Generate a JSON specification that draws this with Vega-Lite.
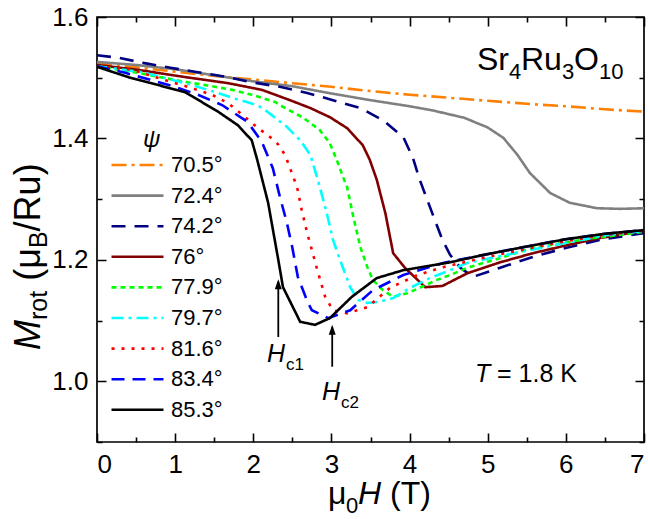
{
  "$schema": "https://vega.github.io/schema/vega-lite/v6.json",
  "width": 547,
  "height": 425,
  "autosize": {"type": "none"},
  "padding": {"left": 97, "top": 17, "right": 4, "bottom": 77},
  "background": "white",
  "config": {
    "view": {"stroke": "black", "strokeWidth": 1.7},
    "font": "Liberation Sans",
    "text": {"font": "Liberation Sans", "color": "black"},
    "axis": {
      "domain": false, "tickColor": "black", "tickWidth": 1.6,
      "labelColor": "black", "labelFont": "Liberation Sans", "labelFontSize": 26,
      "grid": false, "title": null
    }
  },
  "resolve": {"axis": {"x": "independent", "y": "independent"}},
  "layer": [
    {
      "data": {"values": [
        {"psi":"70.5°","H":0,"M":1.524},{"psi":"70.5°","H":0.5,"M":1.517},{"psi":"70.5°","H":1,"M":1.510},{"psi":"70.5°","H":1.5,"M":1.503},{"psi":"70.5°","H":2,"M":1.497},{"psi":"70.5°","H":2.5,"M":1.491},{"psi":"70.5°","H":3,"M":1.485},{"psi":"70.5°","H":3.5,"M":1.478},{"psi":"70.5°","H":4,"M":1.472},{"psi":"70.5°","H":4.5,"M":1.467},{"psi":"70.5°","H":5,"M":1.462},{"psi":"70.5°","H":5.5,"M":1.457},{"psi":"70.5°","H":6,"M":1.453},{"psi":"70.5°","H":6.5,"M":1.448},{"psi":"70.5°","H":7,"M":1.444},
        {"psi":"72.4°","H":0,"M":1.526},{"psi":"72.4°","H":0.5,"M":1.521},{"psi":"72.4°","H":1,"M":1.514},{"psi":"72.4°","H":1.5,"M":1.504},{"psi":"72.4°","H":2,"M":1.494},{"psi":"72.4°","H":2.5,"M":1.486},{"psi":"72.4°","H":3,"M":1.474},{"psi":"72.4°","H":3.5,"M":1.463},{"psi":"72.4°","H":4,"M":1.453},{"psi":"72.4°","H":4.3,"M":1.446},{"psi":"72.4°","H":4.7,"M":1.434},{"psi":"72.4°","H":5.0,"M":1.418},{"psi":"72.4°","H":5.2,"M":1.401},{"psi":"72.4°","H":5.38,"M":1.373},{"psi":"72.4°","H":5.54,"M":1.343},{"psi":"72.4°","H":5.8,"M":1.310},{"psi":"72.4°","H":6.05,"M":1.294},{"psi":"72.4°","H":6.4,"M":1.285},{"psi":"72.4°","H":6.7,"M":1.284},{"psi":"72.4°","H":7,"M":1.285},
        {"psi":"74.2°","H":0,"M":1.537},{"psi":"74.2°","H":0.27,"M":1.533},{"psi":"74.2°","H":0.61,"M":1.524},{"psi":"74.2°","H":0.96,"M":1.516},{"psi":"74.2°","H":1.29,"M":1.509},{"psi":"74.2°","H":1.68,"M":1.501},{"psi":"74.2°","H":1.96,"M":1.493},{"psi":"74.2°","H":2.34,"M":1.485},{"psi":"74.2°","H":2.69,"M":1.475},{"psi":"74.2°","H":3.02,"M":1.463},{"psi":"74.2°","H":3.37,"M":1.450},{"psi":"74.2°","H":3.66,"M":1.430},{"psi":"74.2°","H":3.92,"M":1.402},{"psi":"74.2°","H":4.04,"M":1.369},{"psi":"74.2°","H":4.13,"M":1.332},{"psi":"74.2°","H":4.29,"M":1.277},{"psi":"74.2°","H":4.42,"M":1.233},{"psi":"74.2°","H":4.52,"M":1.208},{"psi":"74.2°","H":4.65,"M":1.187},{"psi":"74.2°","H":4.81,"M":1.172},{"psi":"74.2°","H":5.16,"M":1.187},{"psi":"74.2°","H":5.58,"M":1.205},{"psi":"74.2°","H":6.01,"M":1.220},{"psi":"74.2°","H":6.44,"M":1.233},{"psi":"74.2°","H":7,"M":1.244},
        {"psi":"76°","H":0,"M":1.521},{"psi":"76°","H":0.52,"M":1.513},{"psi":"76°","H":1.13,"M":1.501},{"psi":"76°","H":1.68,"M":1.491},{"psi":"76°","H":2.11,"M":1.480},{"psi":"76°","H":2.47,"M":1.463},{"psi":"76°","H":2.73,"M":1.450},{"psi":"76°","H":2.98,"M":1.435},{"psi":"76°","H":3.2,"M":1.417},{"psi":"76°","H":3.4,"M":1.389},{"psi":"76°","H":3.49,"M":1.365},{"psi":"76°","H":3.58,"M":1.332},{"psi":"76°","H":3.69,"M":1.277},{"psi":"76°","H":3.79,"M":1.211},{"psi":"76°","H":3.94,"M":1.187},{"psi":"76°","H":4.2,"M":1.155},{"psi":"76°","H":4.42,"M":1.157},{"psi":"76°","H":4.74,"M":1.178},{"psi":"76°","H":5.16,"M":1.196},{"psi":"76°","H":5.58,"M":1.211},{"psi":"76°","H":6.01,"M":1.224},{"psi":"76°","H":6.44,"M":1.236},{"psi":"76°","H":7,"M":1.248},
        {"psi":"77.9°","H":0,"M":1.519},{"psi":"77.9°","H":0.52,"M":1.508},{"psi":"77.9°","H":1.13,"M":1.493},{"psi":"77.9°","H":1.38,"M":1.488},{"psi":"77.9°","H":1.73,"M":1.480},{"psi":"77.9°","H":1.98,"M":1.472},{"psi":"77.9°","H":2.28,"M":1.460},{"psi":"77.9°","H":2.38,"M":1.452},{"psi":"77.9°","H":2.64,"M":1.434},{"psi":"77.9°","H":2.85,"M":1.414},{"psi":"77.9°","H":2.98,"M":1.392},{"psi":"77.9°","H":3.07,"M":1.364},{"psi":"77.9°","H":3.15,"M":1.336},{"psi":"77.9°","H":3.2,"M":1.320},{"psi":"77.9°","H":3.28,"M":1.271},{"psi":"77.9°","H":3.37,"M":1.221},{"psi":"77.9°","H":3.46,"M":1.188},{"psi":"77.9°","H":3.53,"M":1.167},{"psi":"77.9°","H":3.66,"M":1.150},{"psi":"77.9°","H":3.79,"M":1.139},{"psi":"77.9°","H":3.97,"M":1.145},{"psi":"77.9°","H":4.13,"M":1.154},{"psi":"77.9°","H":4.35,"M":1.167},{"psi":"77.9°","H":4.52,"M":1.175},{"psi":"77.9°","H":4.74,"M":1.187},{"psi":"77.9°","H":5.16,"M":1.203},{"psi":"77.9°","H":5.58,"M":1.220},{"psi":"77.9°","H":6.3,"M":1.235},{"psi":"77.9°","H":7,"M":1.246},
        {"psi":"79.7°","H":0,"M":1.519},{"psi":"79.7°","H":0.58,"M":1.509},{"psi":"79.7°","H":1.13,"M":1.491},{"psi":"79.7°","H":1.42,"M":1.480},{"psi":"79.7°","H":1.73,"M":1.467},{"psi":"79.7°","H":2.05,"M":1.455},{"psi":"79.7°","H":2.18,"M":1.444},{"psi":"79.7°","H":2.43,"M":1.419},{"psi":"79.7°","H":2.6,"M":1.397},{"psi":"79.7°","H":2.73,"M":1.373},{"psi":"79.7°","H":2.83,"M":1.330},{"psi":"79.7°","H":2.94,"M":1.277},{"psi":"79.7°","H":3.02,"M":1.233},{"psi":"79.7°","H":3.11,"M":1.200},{"psi":"79.7°","H":3.24,"M":1.155},{"psi":"79.7°","H":3.34,"M":1.134},{"psi":"79.7°","H":3.46,"M":1.129},{"psi":"79.7°","H":3.62,"M":1.131},{"psi":"79.7°","H":3.79,"M":1.137},{"psi":"79.7°","H":4.01,"M":1.154},{"psi":"79.7°","H":4.26,"M":1.170},{"psi":"79.7°","H":4.52,"M":1.183},{"psi":"79.7°","H":4.74,"M":1.195},{"psi":"79.7°","H":5.5,"M":1.215},{"psi":"79.7°","H":6,"M":1.228},{"psi":"79.7°","H":6.5,"M":1.240},{"psi":"79.7°","H":7,"M":1.248},
        {"psi":"81.6°","H":0,"M":1.519},{"psi":"81.6°","H":0.45,"M":1.513},{"psi":"81.6°","H":0.87,"M":1.496},{"psi":"81.6°","H":1.16,"M":1.485},{"psi":"81.6°","H":1.47,"M":1.472},{"psi":"81.6°","H":1.68,"M":1.458},{"psi":"81.6°","H":1.86,"M":1.439},{"psi":"81.6°","H":2.06,"M":1.417},{"psi":"81.6°","H":2.19,"M":1.405},{"psi":"81.6°","H":2.32,"M":1.390},{"psi":"81.6°","H":2.41,"M":1.372},{"psi":"81.6°","H":2.47,"M":1.351},{"psi":"81.6°","H":2.56,"M":1.320},{"psi":"81.6°","H":2.62,"M":1.282},{"psi":"81.6°","H":2.69,"M":1.244},{"psi":"81.6°","H":2.75,"M":1.216},{"psi":"81.6°","H":2.82,"M":1.183},{"psi":"81.6°","H":2.92,"M":1.139},{"psi":"81.6°","H":3.02,"M":1.117},{"psi":"81.6°","H":3.2,"M":1.112},{"psi":"81.6°","H":3.46,"M":1.122},{"psi":"81.6°","H":3.75,"M":1.154},{"psi":"81.6°","H":4.1,"M":1.175},{"psi":"81.6°","H":4.43,"M":1.188},{"psi":"81.6°","H":5,"M":1.205},{"psi":"81.6°","H":5.5,"M":1.218},{"psi":"81.6°","H":6,"M":1.231},{"psi":"81.6°","H":6.5,"M":1.241},{"psi":"81.6°","H":7,"M":1.248},
        {"psi":"83.4°","H":0,"M":1.519},{"psi":"83.4°","H":0.36,"M":1.508},{"psi":"83.4°","H":1,"M":1.485},{"psi":"83.4°","H":1.29,"M":1.472},{"psi":"83.4°","H":1.6,"M":1.455},{"psi":"83.4°","H":1.93,"M":1.427},{"psi":"83.4°","H":2.11,"M":1.394},{"psi":"83.4°","H":2.25,"M":1.351},{"psi":"83.4°","H":2.34,"M":1.304},{"psi":"83.4°","H":2.43,"M":1.261},{"psi":"83.4°","H":2.5,"M":1.220},{"psi":"83.4°","H":2.57,"M":1.172},{"psi":"83.4°","H":2.7,"M":1.129},{"psi":"83.4°","H":2.75,"M":1.117},{"psi":"83.4°","H":2.96,"M":1.104},{"psi":"83.4°","H":3.24,"M":1.117},{"psi":"83.4°","H":3.53,"M":1.150},{"psi":"83.4°","H":3.92,"M":1.175},{"psi":"83.4°","H":4.43,"M":1.195},{"psi":"83.4°","H":4.9,"M":1.207},{"psi":"83.4°","H":5.5,"M":1.222},{"psi":"83.4°","H":6,"M":1.234},{"psi":"83.4°","H":6.5,"M":1.243},{"psi":"83.4°","H":7,"M":1.249},
        {"psi":"85.3°","H":0,"M":1.518},{"psi":"85.3°","H":0.4,"M":1.501},{"psi":"85.3°","H":1.13,"M":1.476},{"psi":"85.3°","H":1.55,"M":1.444},{"psi":"85.3°","H":1.8,"M":1.422},{"psi":"85.3°","H":1.98,"M":1.397},{"psi":"85.3°","H":2.05,"M":1.365},{"psi":"85.3°","H":2.19,"M":1.294},{"psi":"85.3°","H":2.32,"M":1.200},{"psi":"85.3°","H":2.38,"M":1.155},{"psi":"85.3°","H":2.6,"M":1.098},{"psi":"85.3°","H":2.79,"M":1.093},{"psi":"85.3°","H":2.98,"M":1.104},{"psi":"85.3°","H":3.26,"M":1.139},{"psi":"85.3°","H":3.58,"M":1.170},{"psi":"85.3°","H":3.92,"M":1.183},{"psi":"85.3°","H":4.52,"M":1.196},{"psi":"85.3°","H":4.94,"M":1.208},{"psi":"85.3°","H":5.5,"M":1.222},{"psi":"85.3°","H":6,"M":1.234},{"psi":"85.3°","H":6.5,"M":1.243},{"psi":"85.3°","H":7,"M":1.249}
      ]},
      "mark": {"type": "line", "strokeWidth": 2.6, "clip": true},
      "encoding": {
        "x": {"field": "H", "type": "quantitative", "scale": {"domain": [0, 7], "nice": false, "zero": false},
          "axis": {"orient": "bottom", "values": [0,0.5,1,1.5,2,2.5,3,3.5,4,4.5,5,5.5,6,6.5,7],
            "labelExpr": "datum.value % 1 === 0 ? format(datum.value, 'd') : ''",
            "tickSize": 9, "offset": -9, "labelPadding": 9,
            "tickDash": {"condition": {"test": "datum.value % 1 !== 0", "value": [0, 4, 5, 0]}, "value": [1, 0]}}},
        "y": {"field": "M", "type": "quantitative", "scale": {"domain": [0.9, 1.6], "nice": false, "zero": false},
          "axis": {"orient": "left", "values": [0.9,1,1.1,1.2,1.3,1.4,1.5,1.6],
            "labelExpr": "(datum.value == 1 || datum.value == 1.2 || datum.value == 1.4 || datum.value == 1.6) ? format(datum.value, '.1f') : ''",
            "tickSize": 9, "offset": -9, "labelPadding": 9,
            "tickDash": {"condition": {"test": "!(datum.value == 1 || datum.value == 1.2 || datum.value == 1.4 || datum.value == 1.6)", "value": [0, 4, 5, 0]}, "value": [1, 0]}}},
        "color": {"field": "psi", "type": "nominal",
          "sort": ["70.5°","72.4°","74.2°","76°","77.9°","79.7°","81.6°","83.4°","85.3°"],
          "scale": {"domain": ["70.5°","72.4°","74.2°","76°","77.9°","79.7°","81.6°","83.4°","85.3°"],
            "range": ["#FF8000","#808080","#000080","#800000","#00FF00","#00FFFF","#FF0000","#0000FF","#000000"]},
          "legend": {"orient": "none", "legendX": 13, "legendY": 137, "title": null, "labelFontSize": 22,
            "labelFont": "Liberation Sans", "labelColor": "black", "symbolType": "stroke", "symbolSize": 2700,
            "symbolStrokeWidth": 2.6, "clipHeight": 22, "rowPadding": 8.6, "labelOffset": 6}},
        "strokeDash": {"field": "psi", "type": "nominal",
          "sort": ["70.5°","72.4°","74.2°","76°","77.9°","79.7°","81.6°","83.4°","85.3°"],
          "scale": {"domain": ["70.5°","72.4°","74.2°","76°","77.9°","79.7°","81.6°","83.4°","85.3°"],
            "range": [[15,5,3,5],[1,0],[14,9],[1,0],[5,4],[12,5,3,5],[3,7],[13,8],[1,0]]},
          "legend": {"orient": "none", "legendX": 13, "legendY": 137, "title": null, "labelFontSize": 22,
            "labelFont": "Liberation Sans", "labelColor": "black", "symbolType": "stroke", "symbolSize": 2700,
            "symbolStrokeWidth": 2.6, "clipHeight": 22, "rowPadding": 8.6, "labelOffset": 6}}
      }
    },
    {
      "data": {"values": [{"a": "Hc1", "x": 2.32, "y1": 1.164, "y2": 1.073}, {"a": "Hc2", "x": 3.01, "y1": 1.089, "y2": 1.024}]},
      "mark": {"type": "rule", "strokeWidth": 1.8, "color": "black"},
      "encoding": {
        "x": {"field": "x", "type": "quantitative",
          "axis": {"orient": "top", "values": [0,0.5,1,1.5,2,2.5,3,3.5,4,4.5,5,5.5,6,6.5,7], "labels": false,
            "tickSize": 9, "offset": -9,
            "tickDash": {"condition": {"test": "datum.value % 1 !== 0", "value": [0, 4, 5, 0]}, "value": [1, 0]}}},
        "y": {"field": "y1", "type": "quantitative",
          "axis": {"orient": "right", "values": [0.9,1,1.1,1.2,1.3,1.4,1.5,1.6], "labels": false,
            "tickSize": 9, "offset": -9,
            "tickDash": {"condition": {"test": "!(datum.value == 1 || datum.value == 1.2 || datum.value == 1.4 || datum.value == 1.6)", "value": [0, 4, 5, 0]}, "value": [1, 0]}}},
        "y2": {"field": "y2"}
      }
    },
    {
      "data": {"values": [{"a": "Hc1", "x": 2.32, "y": 1.168}, {"a": "Hc2", "x": 3.01, "y": 1.093}]},
      "mark": {"type": "point", "shape": "M0,0L-0.35,1L0.35,1Z", "filled": true, "color": "black", "opacity": 1, "size": 400},
      "encoding": {
        "x": {"field": "x", "type": "quantitative", "axis": null},
        "y": {"field": "y", "type": "quantitative", "axis": null}
      }
    },
    {"data": {"values": [{}]}, "mark": {"type": "text", "text": "ψ", "fontSize": 24, "fontStyle": "italic", "align": "center", "baseline": "middle"},
      "encoding": {"x": {"datum": 0.70, "type": "quantitative", "axis": null}, "y": {"datum": 1.397, "type": "quantitative", "axis": null}}},
    {"data": {"values": [{}]}, "mark": {"type": "text", "text": "Sr", "fontSize": 32, "align": "left", "baseline": "alphabetic"},
      "encoding": {"x": {"datum": 4.863, "type": "quantitative", "axis": null}, "y": {"datum": 1.5127, "type": "quantitative", "axis": null}}},
    {"data": {"values": [{}]}, "mark": {"type": "text", "text": "4", "fontSize": 22, "align": "left", "baseline": "alphabetic"},
      "encoding": {"x": {"datum": 5.273, "type": "quantitative", "axis": null}, "y": {"datum": 1.4979, "type": "quantitative", "axis": null}}},
    {"data": {"values": [{}]}, "mark": {"type": "text", "text": "Ru", "fontSize": 32, "align": "left", "baseline": "alphabetic"},
      "encoding": {"x": {"datum": 5.426, "type": "quantitative", "axis": null}, "y": {"datum": 1.5127, "type": "quantitative", "axis": null}}},
    {"data": {"values": [{}]}, "mark": {"type": "text", "text": "3", "fontSize": 22, "align": "left", "baseline": "alphabetic"},
      "encoding": {"x": {"datum": 5.951, "type": "quantitative", "axis": null}, "y": {"datum": 1.4979, "type": "quantitative", "axis": null}}},
    {"data": {"values": [{}]}, "mark": {"type": "text", "text": "O", "fontSize": 32, "align": "left", "baseline": "alphabetic"},
      "encoding": {"x": {"datum": 6.104, "type": "quantitative", "axis": null}, "y": {"datum": 1.5127, "type": "quantitative", "axis": null}}},
    {"data": {"values": [{}]}, "mark": {"type": "text", "text": "10", "fontSize": 22, "align": "left", "baseline": "alphabetic"},
      "encoding": {"x": {"datum": 6.424, "type": "quantitative", "axis": null}, "y": {"datum": 1.4979, "type": "quantitative", "axis": null}}},
    {"data": {"values": [{}]}, "mark": {"type": "text", "text": "T", "fontSize": 25, "fontStyle": "italic", "align": "left", "baseline": "alphabetic"},
      "encoding": {"x": {"datum": 4.837, "type": "quantitative", "axis": null}, "y": {"datum": 0.9988, "type": "quantitative", "axis": null}}},
    {"data": {"values": [{}]}, "mark": {"type": "text", "text": "= 1.8 K", "fontSize": 25, "align": "left", "baseline": "alphabetic"},
      "encoding": {"x": {"datum": 5.119, "type": "quantitative", "axis": null}, "y": {"datum": 0.9988, "type": "quantitative", "axis": null}}},
    {"data": {"values": [{}]}, "mark": {"type": "text", "text": "H", "fontSize": 25, "fontStyle": "italic", "align": "left", "baseline": "alphabetic"},
      "encoding": {"x": {"datum": 2.176, "type": "quantitative", "axis": null}, "y": {"datum": 1.0318, "type": "quantitative", "axis": null}}},
    {"data": {"values": [{}]}, "mark": {"type": "text", "text": "c1", "fontSize": 17, "align": "left", "baseline": "alphabetic"},
      "encoding": {"x": {"datum": 2.419, "type": "quantitative", "axis": null}, "y": {"datum": 1.0186, "type": "quantitative", "axis": null}}},
    {"data": {"values": [{}]}, "mark": {"type": "text", "text": "H", "fontSize": 25, "fontStyle": "italic", "align": "left", "baseline": "alphabetic"},
      "encoding": {"x": {"datum": 2.879, "type": "quantitative", "axis": null}, "y": {"datum": 0.9692, "type": "quantitative", "axis": null}}},
    {"data": {"values": [{}]}, "mark": {"type": "text", "text": "c2", "fontSize": 17, "align": "left", "baseline": "alphabetic"},
      "encoding": {"x": {"datum": 3.123, "type": "quantitative", "axis": null}, "y": {"datum": 0.956, "type": "quantitative", "axis": null}}},
    {"data": {"values": [{}]}, "mark": {"type": "text", "text": "μ", "fontSize": 32, "align": "left", "baseline": "alphabetic"},
      "encoding": {"x": {"datum": 2.956, "type": "quantitative", "axis": null}, "y": {"datum": 0.7975, "type": "quantitative", "axis": null}}},
    {"data": {"values": [{}]}, "mark": {"type": "text", "text": "0", "fontSize": 22, "align": "left", "baseline": "alphabetic"},
      "encoding": {"x": {"datum": 3.187, "type": "quantitative", "axis": null}, "y": {"datum": 0.7827, "type": "quantitative", "axis": null}}},
    {"data": {"values": [{}]}, "mark": {"type": "text", "text": "H", "fontSize": 32, "fontStyle": "italic", "align": "left", "baseline": "alphabetic"},
      "encoding": {"x": {"datum": 3.340, "type": "quantitative", "axis": null}, "y": {"datum": 0.7975, "type": "quantitative", "axis": null}}},
    {"data": {"values": [{}]}, "mark": {"type": "text", "text": "(T)", "fontSize": 32, "align": "left", "baseline": "alphabetic"},
      "encoding": {"x": {"datum": 3.750, "type": "quantitative", "axis": null}, "y": {"datum": 0.7975, "type": "quantitative", "axis": null}}},
    {"data": {"values": [{}]}, "mark": {"type": "text", "text": "M", "fontSize": 36, "fontStyle": "italic", "angle": 270, "align": "left", "baseline": "alphabetic"},
      "encoding": {"x": {"datum": -0.729, "type": "quantitative", "axis": null}, "y": {"datum": 1.0515, "type": "quantitative", "axis": null}}},
    {"data": {"values": [{}]}, "mark": {"type": "text", "text": "rot", "fontSize": 25, "angle": 270, "align": "left", "baseline": "alphabetic"},
      "encoding": {"x": {"datum": -0.640, "type": "quantitative", "axis": null}, "y": {"datum": 1.101, "type": "quantitative", "axis": null}}},
    {"data": {"values": [{}]}, "mark": {"type": "text", "text": "(μ", "fontSize": 36, "angle": 270, "align": "left", "baseline": "alphabetic"},
      "encoding": {"x": {"datum": -0.729, "type": "quantitative", "axis": null}, "y": {"datum": 1.1655, "type": "quantitative", "axis": null}}},
    {"data": {"values": [{}]}, "mark": {"type": "text", "text": "B", "fontSize": 25, "angle": 270, "align": "left", "baseline": "alphabetic"},
      "encoding": {"x": {"datum": -0.640, "type": "quantitative", "axis": null}, "y": {"datum": 1.2194, "type": "quantitative", "axis": null}}},
    {"data": {"values": [{}]}, "mark": {"type": "text", "text": "/Ru)", "fontSize": 36, "angle": 270, "align": "left", "baseline": "alphabetic"},
      "encoding": {"x": {"datum": -0.729, "type": "quantitative", "axis": null}, "y": {"datum": 1.2469, "type": "quantitative", "axis": null}}}
  ]
}
